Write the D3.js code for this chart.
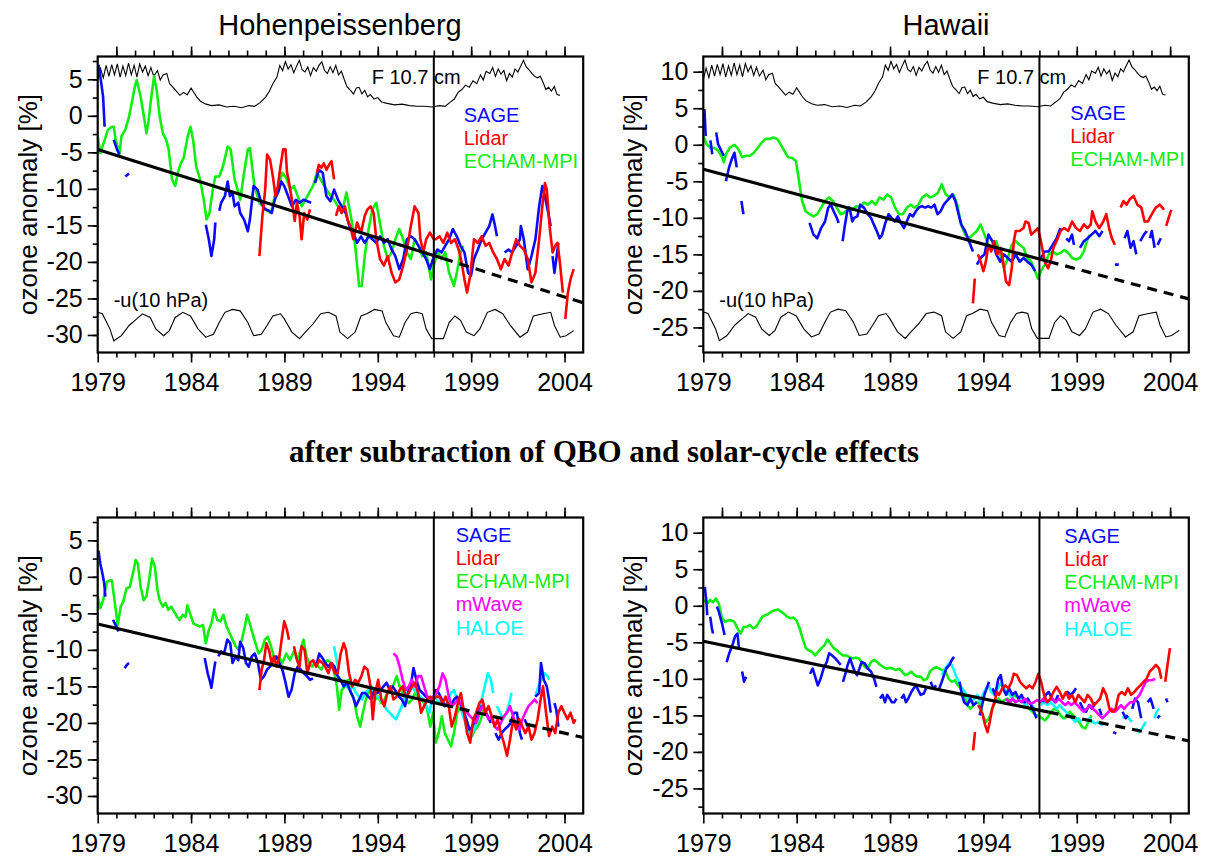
<!DOCTYPE html>
<html>
<head>
<meta charset="utf-8">
<script src="https://d3js.org/d3.v7.min.js"></script>
<style>
  body { margin: 0; background: #fff; }
  text { font-family: "Liberation Sans", Arial, Helvetica, sans-serif; }
  .axis path { display: none; }
  .axis line { stroke: #000; stroke-width: 1.6; }
  .axis text { font-size: 25px; fill: #000; }
</style>
</head>
<body>
<script>
// ---- tick labels ----
var yearTicks = [1979, 1984, 1989, 1994, 1999, 2004];
var leftTicks = [5, 0, -5, -10, -15, -20, -25, -30];
var rightTicks = [10, 5, 0, -5, -10, -15, -20, -25];

// ---- solar flux (F 10.7 cm) and -u(10 hPa), in Hohenpeissenberg units ----
var f107 = [[1979.0,4.9],[1979.15,6.5],[1979.3,5.2],[1979.45,6.9],[1979.6,5.4],[1979.75,7.0],[1979.9,5.6],[1980.05,7.1],[1980.2,5.3],[1980.35,6.8],[1980.5,5.5],[1980.65,7.2],[1980.8,5.6],[1980.95,6.9],[1981.1,5.3],[1981.25,7.1],[1981.4,6.0],[1981.55,6.8],[1981.7,5.5],[1981.85,6.6],[1982.0,5.4],[1982.2,6.2],[1982.35,4.9],[1982.5,5.6],[1982.7,5.8],[1982.85,4.4],[1983.0,4.0],[1983.2,3.4],[1983.4,2.8],[1983.6,3.2],[1983.8,2.9],[1984.0,3.8],[1984.15,3.2],[1984.3,2.6],[1984.5,2.0],[1984.8,1.6],[1985.1,1.4],[1985.5,1.5],[1985.9,1.2],[1986.3,1.3],[1986.7,1.1],[1987.1,1.4],[1987.4,1.3],[1987.7,1.8],[1988.0,2.6],[1988.2,3.4],[1988.4,4.5],[1988.6,5.3],[1988.75,6.9],[1988.9,6.2],[1989.05,7.4],[1989.2,6.4],[1989.35,7.0],[1989.5,5.9],[1989.65,6.8],[1989.8,7.6],[1989.95,6.3],[1990.1,6.0],[1990.25,6.7],[1990.4,5.5],[1990.55,6.6],[1990.7,6.1],[1990.85,6.9],[1991.0,7.4],[1991.15,6.2],[1991.3,5.8],[1991.45,6.7],[1991.6,5.9],[1991.75,6.9],[1991.9,5.6],[1992.05,6.1],[1992.2,5.0],[1992.35,4.0],[1992.5,3.6],[1992.7,3.0],[1992.85,3.8],[1993.0,3.9],[1993.15,3.0],[1993.3,3.5],[1993.45,2.6],[1993.6,2.9],[1993.8,2.3],[1994.0,2.5],[1994.2,1.9],[1994.5,1.7],[1994.9,1.5],[1995.3,1.6],[1995.7,1.4],[1996.1,1.3],[1996.5,1.3],[1996.9,1.2],[1997.3,1.4],[1997.6,1.3],[1997.9,1.9],[1998.1,2.3],[1998.3,3.2],[1998.5,3.6],[1998.7,4.2],[1998.9,3.9],[1999.1,4.8],[1999.3,4.4],[1999.5,5.6],[1999.65,4.9],[1999.8,6.1],[2000.0,5.8],[2000.15,6.6],[2000.3,5.4],[2000.45,6.4],[2000.6,5.7],[2000.75,6.2],[2000.9,4.8],[2001.05,5.8],[2001.2,5.3],[2001.35,6.4],[2001.5,6.0],[2001.65,6.8],[2001.8,7.6],[2001.95,6.7],[2002.1,6.3],[2002.25,5.8],[2002.4,5.4],[2002.55,5.2],[2002.7,5.4],[2002.85,4.6],[2003.0,3.6],[2003.15,3.9],[2003.3,3.4],[2003.45,4.0],[2003.6,2.9],[2003.75,2.8]];
var uWind = [[1979.0,-26.9],[1979.25,-27.1],[1979.66,-29.2],[1979.86,-30.8],[1980.27,-30.1],[1980.68,-28.7],[1981.09,-27.8],[1981.4,-27.1],[1981.81,-27.6],[1982.12,-29.2],[1982.53,-30.1],[1982.84,-29.4],[1983.15,-27.6],[1983.56,-26.9],[1983.97,-27.4],[1984.38,-29.2],[1984.79,-30.3],[1985.2,-29.9],[1985.51,-28.3],[1985.81,-26.9],[1986.22,-26.5],[1986.63,-26.7],[1987.04,-28.3],[1987.35,-30.1],[1987.76,-29.9],[1988.07,-28.7],[1988.38,-27.4],[1988.79,-27.1],[1988.99,-27.8],[1989.4,-29.6],[1989.81,-30.5],[1990.12,-29.6],[1990.53,-28.5],[1990.94,-27.1],[1991.35,-26.9],[1991.76,-27.4],[1991.97,-29.6],[1992.38,-30.5],[1992.79,-29.6],[1993.1,-27.4],[1993.41,-27.1],[1993.82,-26.5],[1994.23,-26.7],[1994.43,-28.3],[1994.84,-30.1],[1995.15,-30.3],[1995.46,-28.3],[1995.77,-27.1],[1996.07,-26.9],[1996.38,-27.1],[1996.59,-29.2],[1996.89,-30.5],[1997.51,-30.5],[1997.82,-28.3],[1998.13,-27.4],[1998.43,-28.0],[1998.74,-29.6],[1999.15,-30.1],[1999.46,-29.2],[1999.87,-26.9],[2000.28,-26.5],[2000.69,-27.1],[2001.1,-28.7],[2001.61,-30.3],[2002.02,-29.6],[2002.33,-27.4],[2002.85,-27.1],[2003.26,-26.9],[2003.46,-28.7],[2003.77,-30.3],[2004.08,-30.1],[2004.49,-29.4]];
// shift of both index curves in the Hawaii panel
var indexShiftHawaii = 4.0;

// ---- trend lines: value at 1979 and at 2005 ----
var trendP1 = [-4.6, -25.6];
var trendP2 = [-3.35, -21.1];
var trendP3 = [-6.45, -22.0];
var trendP4 = [-4.85, -18.5];
var trendBreak = 1997.5;

// ---- Hohenpeissenberg, raw ----
var p1Echam = [[1979.0,-2.8],[1979.14,-5.1],[1979.35,-3.5],[1979.55,-1.9],[1979.76,-1.5],[1979.86,-1.5],[1979.96,-3.3],[1980.17,-5.1],[1980.27,-2.8],[1980.48,-1.9],[1980.68,-0.1],[1980.79,1.3],[1980.99,4.0],[1981.09,4.9],[1981.3,2.6],[1981.5,-0.5],[1981.61,-2.4],[1981.71,-1.0],[1981.87,2.6],[1982.02,5.4],[1982.16,3.5],[1982.32,-0.1],[1982.49,-2.4],[1982.67,-3.3],[1982.8,-4.6],[1982.98,-8.7],[1983.15,-9.6],[1983.29,-7.8],[1983.45,-6.5],[1983.6,-5.8],[1983.82,-2.8],[1983.97,-1.5],[1984.11,-3.3],[1984.27,-6.9],[1984.48,-8.7],[1984.68,-11.5],[1984.83,-14.2],[1984.99,-13.3],[1985.14,-10.5],[1985.3,-8.3],[1985.51,-8.3],[1985.71,-6.9],[1985.96,-4.2],[1986.12,-4.6],[1986.33,-8.7],[1986.54,-10.5],[1986.63,-11.5],[1986.84,-7.8],[1987.04,-4.6],[1987.15,-4.4],[1987.25,-6.5],[1987.39,-9.6],[1987.66,-11.9],[1987.97,-12.8],[1988.28,-13.3],[1988.48,-11.0],[1988.69,-9.6],[1988.89,-7.8],[1989.1,-8.5],[1989.3,-10.1],[1989.51,-9.6],[1989.71,-11.0],[1989.92,-12.4],[1990.12,-11.5],[1990.33,-10.5],[1990.53,-9.6],[1990.74,-7.8],[1991.05,-9.2],[1991.35,-10.5],[1991.66,-11.5],[1991.87,-12.4],[1992.07,-13.3],[1992.32,-10.5],[1992.59,-14.2],[1992.79,-17.8],[1993.0,-23.3],[1993.14,-23.3],[1993.3,-19.2],[1993.51,-15.5],[1993.71,-12.8],[1993.92,-11.9],[1994.08,-14.2],[1994.33,-17.8],[1994.53,-19.6],[1994.74,-18.7],[1994.94,-16.9],[1995.15,-15.5],[1995.36,-16.9],[1995.56,-18.7],[1995.77,-19.6],[1995.97,-16.9],[1996.18,-17.8],[1996.38,-19.2],[1996.59,-18.7],[1996.85,-22.4],[1997.0,-20.5],[1997.2,-18.7],[1997.41,-19.6],[1997.61,-18.7],[1997.82,-21.5],[1998.08,-23.3],[1998.23,-21.5],[1998.43,-18.7],[1998.58,-17.8]];
var p1Sage = [[1979.04,7.0],[1979.14,5.4],[1979.29,2.6],[1979.37,-1.5],null,[1979.86,-3.3],[1980.03,-4.6],[1980.17,-5.3],null,[1980.48,-8.3],[1980.68,-7.9],null,[1984.79,-14.9],[1984.95,-16.9],[1985.09,-19.2],[1985.24,-16.9],[1985.3,-14.6],null,[1985.51,-13.0],[1985.61,-11.9],[1985.81,-11.0],[1985.96,-9.0],[1986.08,-11.0],[1986.22,-10.5],[1986.33,-12.4],[1986.53,-11.9],[1986.63,-13.3],[1986.84,-14.2],[1987.04,-15.8],[1987.15,-14.2],[1987.25,-11.9],[1987.35,-9.6],[1987.56,-10.1],[1987.76,-11.9],[1987.97,-12.8],[1988.17,-13.0],[1988.32,-13.3],[1988.48,-11.5],[1988.69,-10.3],[1988.83,-9.0],[1988.99,-9.6],[1989.2,-11.0],[1989.4,-12.4],[1989.61,-11.5],[1989.81,-11.9],[1990.02,-11.5],[1990.23,-11.7],[1990.43,-11.9],null,[1990.64,-9.2],[1990.84,-7.4],[1991.05,-7.8],[1991.25,-11.0],[1991.46,-11.7],[1991.66,-10.1],[1991.87,-11.5],[1992.07,-12.4],[1992.28,-13.3],[1992.48,-15.1],[1992.69,-16.0],[1992.89,-17.4],[1993.1,-16.5],[1993.3,-17.4],[1993.51,-16.5],[1993.71,-16.9],[1993.92,-17.4],[1994.12,-16.5],[1994.33,-17.4],[1994.53,-16.9],[1994.74,-18.3],[1994.94,-19.2],[1995.15,-21.0],[1995.36,-19.6],[1995.56,-16.9],[1995.77,-16.5],[1995.97,-16.9],[1996.18,-17.8],[1996.38,-18.7],[1996.59,-19.6],[1996.79,-21.0],[1997.0,-19.2],[1997.2,-18.3],[1997.41,-18.7],[1997.61,-17.8],[1997.82,-16.9],[1998.02,-15.5],[1998.23,-16.5],[1998.43,-17.8],[1998.64,-18.7],[1998.84,-21.5],[1998.99,-21.9],[1999.15,-19.6],[1999.36,-18.3],[1999.56,-16.9],[1999.77,-16.0],[1999.97,-15.1],[2000.14,-13.5],[2000.28,-15.1],[2000.38,-16.5],null,[2000.79,-18.7],[2001.0,-18.3],[2001.2,-18.7],[2001.41,-17.8],[2001.61,-16.9],[2001.66,-15.1],[2001.82,-16.9],[2002.03,-21.0],[2002.23,-19.2],[2002.44,-16.9],[2002.64,-12.4],[2002.81,-9.6],[2002.95,-11.0],[2003.16,-13.7],[2003.26,-15.1],null,[2003.36,-19.2],[2003.46,-21.5],[2003.56,-19.6],[2003.67,-17.4]];
var p1Lidar = [[1987.66,-19.2],[1987.82,-13.7],[1987.97,-10.1],[1988.07,-5.3],[1988.23,-6.0],[1988.38,-8.3],[1988.52,-11.0],[1988.65,-9.6],[1988.79,-6.9],[1988.93,-4.6],[1989.06,-4.6],[1989.14,-7.8],[1989.22,-8.7],[1989.4,-11.5],[1989.55,-14.4],[1989.67,-11.9],[1989.81,-13.7],[1989.92,-16.9],[1990.06,-13.3],[1990.23,-14.2],[1990.37,-12.8],null,[1990.74,-7.8],[1990.84,-6.7],[1990.98,-7.1],[1991.11,-6.5],[1991.25,-7.4],[1991.39,-6.7],[1991.52,-6.2],[1991.66,-8.7],null,[1991.76,-13.7],[1991.91,-12.4],[1992.07,-13.3],[1992.24,-12.4],[1992.38,-14.2],[1992.52,-15.1],[1992.69,-16.9],[1992.89,-14.6],[1993.1,-16.0],[1993.3,-13.7],[1993.45,-12.8],[1993.61,-12.4],[1993.78,-13.3],[1993.92,-16.9],[1994.12,-19.6],[1994.33,-20.5],[1994.53,-19.2],[1994.74,-21.5],[1994.94,-22.8],[1995.15,-22.4],[1995.36,-20.5],[1995.56,-18.3],[1995.77,-15.1],[1995.97,-12.4],[1996.18,-13.3],[1996.28,-16.9],[1996.44,-18.7],[1996.59,-16.9],[1996.79,-16.0],[1997.0,-16.9],[1997.1,-16.9],[1997.31,-16.5],[1997.51,-17.4],[1997.72,-16.0],[1997.92,-17.4],[1998.13,-16.9],[1998.33,-18.3],[1998.49,-20.1],[1998.64,-22.4],[1998.78,-24.2],[1998.95,-21.9],[1999.15,-16.9],[1999.36,-17.4],[1999.56,-16.5],[1999.77,-17.8],[1999.97,-17.4],[2000.18,-18.7],[2000.38,-19.6],[2000.59,-21.0],[2000.79,-19.6],[2001.0,-20.5],[2001.2,-18.7],[2001.41,-16.9],[2001.61,-17.8],[2001.82,-18.3],[2002.03,-19.6],[2002.23,-22.8],[2002.44,-21.5],[2002.64,-16.9],[2002.81,-12.4],[2002.95,-9.2],[2003.05,-10.1],[2003.2,-15.1],[2003.36,-18.7],[2003.5,-17.8],[2003.63,-17.4],[2003.77,-20.5],[2003.91,-24.2],null,[2004.04,-27.8],[2004.18,-24.2],[2004.32,-22.4],[2004.49,-21.0]];

// ---- Hawaii, raw ----
var p2Echam = [[1979.0,1.2],[1979.17,0.1],[1979.38,-0.4],[1979.58,-0.4],[1979.79,-0.8],[1980.0,-1.7],[1980.1,-2.4],[1980.21,-1.3],[1980.42,-0.4],[1980.67,0.0],[1980.88,-0.6],[1981.08,-1.7],[1981.29,-1.5],[1981.5,-1.5],[1981.71,-1.1],[1981.92,-0.4],[1982.13,0.3],[1982.33,0.8],[1982.54,0.8],[1982.75,1.0],[1982.96,0.8],[1983.13,0.1],[1983.33,-0.8],[1983.54,-1.7],[1983.75,-1.8],[1983.96,-2.2],[1984.13,-5.0],[1984.29,-7.7],[1984.48,-9.1],[1984.69,-9.5],[1984.9,-9.8],[1985.1,-9.5],[1985.31,-8.6],[1985.52,-7.7],[1985.73,-7.2],[1985.94,-7.7],[1986.15,-8.6],[1986.35,-9.5],[1986.56,-9.3],[1986.77,-8.6],[1986.98,-8.9],[1987.19,-8.4],[1987.4,-8.6],[1987.6,-7.9],[1987.81,-8.2],[1988.02,-7.7],[1988.23,-8.2],[1988.44,-7.2],[1988.65,-7.5],[1988.85,-6.8],[1989.06,-7.2],[1989.27,-8.6],[1989.48,-9.5],[1989.69,-9.5],[1989.9,-8.6],[1990.1,-8.2],[1990.31,-8.6],[1990.52,-8.2],[1990.73,-7.2],[1990.94,-6.8],[1991.15,-7.2],[1991.35,-7.0],[1991.56,-6.6],[1991.77,-5.4],[1991.98,-6.8],[1992.19,-7.2],[1992.4,-6.8],[1992.6,-8.2],[1992.81,-10.9],[1993.02,-12.3],[1993.23,-12.8],[1993.44,-12.3],[1993.65,-11.8],[1993.85,-10.9],[1994.06,-12.3],[1994.27,-13.7],[1994.48,-14.1],[1994.69,-13.2],[1994.9,-15.0],[1995.1,-16.9],[1995.31,-15.5],[1995.52,-13.7],[1995.73,-13.2],[1995.94,-13.7],[1996.15,-14.1],[1996.35,-15.5],[1996.56,-16.0],[1996.77,-17.3],[1996.92,-18.3],[1997.08,-17.3],[1997.29,-16.4],[1997.5,-15.0],[1997.71,-14.6],[1997.92,-15.0],[1998.13,-14.8],[1998.33,-14.4],[1998.54,-14.8],[1998.75,-15.5],[1998.96,-15.7],[1999.17,-15.5],[1999.38,-14.6],[1999.54,-13.2],[1999.69,-12.3]];
var p2Sage = [[1979.06,4.9],[1979.13,1.2],null,[1979.38,0.6],[1979.48,-1.3],null,[1979.69,1.7],[1979.79,0.1],[1979.96,-0.8],[1980.1,-1.5],null,[1980.21,-5.0],[1980.38,-3.1],[1980.52,-2.0],[1980.67,-1.1],[1980.79,-3.1],null,[1981.04,-7.7],[1981.15,-9.5],null,[1984.69,-10.7],[1984.9,-12.3],[1985.1,-12.8],[1985.31,-11.4],[1985.52,-10.5],[1985.69,-8.6],[1985.83,-8.2],[1985.98,-9.1],[1986.15,-10.0],[1986.25,-10.7],null,[1986.46,-13.2],[1986.56,-11.4],[1986.71,-9.1],[1986.83,-8.6],[1986.98,-10.5],[1987.08,-10.0],[1987.25,-9.8],[1987.4,-8.2],[1987.6,-8.6],[1987.81,-9.5],[1987.98,-10.0],[1988.13,-10.9],[1988.29,-11.8],[1988.44,-12.8],[1988.58,-12.3],[1988.75,-10.7],[1988.92,-9.5],[1989.08,-10.0],[1989.25,-10.5],[1989.42,-9.8],[1989.58,-10.7],[1989.75,-11.4],[1989.9,-10.5],[1990.06,-9.5],[1990.23,-9.8],[1990.38,-9.1],[1990.54,-8.6],[1990.71,-8.4],[1990.88,-8.6],[1991.04,-8.4],[1991.21,-8.6],[1991.38,-8.2],[1991.54,-9.5],[1991.71,-9.1],[1991.88,-8.2],[1992.04,-7.7],[1992.21,-7.2],[1992.33,-6.8],[1992.5,-7.7],[1992.67,-9.5],[1992.81,-10.9],[1993.02,-11.8],[1993.23,-13.2],[1993.44,-14.6],null,[1993.65,-16.4],[1993.85,-15.5],[1994.06,-15.0],[1994.27,-12.3],[1994.48,-13.2],[1994.69,-15.0],[1994.9,-16.0],[1995.1,-15.0],[1995.31,-15.5],[1995.52,-16.0],[1995.73,-15.0],[1995.94,-16.0],[1996.15,-15.5],[1996.35,-16.0],[1996.56,-16.4],[1996.77,-17.3],null,[1997.08,-15.5],[1997.29,-14.6],[1997.5,-14.6],[1997.71,-13.7],[1997.92,-12.8],[1998.13,-11.4],null,[1998.44,-12.8],[1998.58,-13.2],[1998.75,-12.3],[1998.85,-13.7],null,[1999.17,-14.1],[1999.38,-13.2],[1999.58,-12.8],[1999.79,-12.3],[2000.0,-11.8],[2000.21,-12.5],[2000.38,-11.8],null,[2001.04,-16.4],[2001.25,-16.4],null,[2001.56,-12.8],[2001.71,-11.8],[2001.88,-14.1],[2002.04,-13.2],[2002.19,-15.0],null,[2002.4,-13.2],[2002.6,-12.3],[2002.75,-11.8],null,[2002.92,-12.8],[2003.02,-11.8],[2003.17,-14.1],null,[2003.33,-13.7],[2003.5,-12.8]];
var p2Lidar = [[1993.44,-21.7],[1993.54,-18.3],null,[1993.71,-15.0],[1993.85,-16.0],[1994.0,-17.3],[1994.13,-16.0],[1994.27,-13.7],[1994.42,-14.6],[1994.58,-13.2],[1994.75,-15.0],[1994.92,-14.1],[1995.08,-16.4],[1995.21,-18.7],[1995.38,-19.2],[1995.52,-16.9],[1995.63,-13.2],[1995.73,-11.8],[1995.94,-11.8],[1996.15,-11.4],[1996.25,-10.5],[1996.42,-10.7],[1996.56,-12.3],[1996.77,-11.8],[1996.92,-11.4],[1997.08,-13.2],[1997.29,-16.0],[1997.46,-16.9],[1997.6,-16.0],[1997.75,-14.1],[1997.92,-13.2],[1998.13,-11.8],[1998.33,-11.4],[1998.54,-11.8],[1998.75,-10.5],[1998.96,-11.4],[1999.17,-11.8],[1999.38,-10.9],[1999.58,-11.4],[1999.75,-10.9],[1999.83,-9.1],[2000.0,-10.5],[2000.21,-11.4],[2000.42,-10.5],[2000.58,-9.5],[2000.73,-11.4],[2000.88,-12.8],[2001.04,-13.7],null,[2001.35,-8.6],[2001.5,-7.7],[2001.67,-8.2],[2001.83,-7.5],[2002.04,-7.0],[2002.25,-8.2],[2002.46,-8.6],[2002.63,-10.5],[2002.81,-10.5],[2003.02,-9.5],[2003.23,-8.6],[2003.44,-8.2],[2003.58,-8.6],[2003.67,-8.9],null,[2003.79,-11.1],[2003.92,-10.0],[2004.06,-8.9]];

// ---- Hohenpeissenberg, after subtraction ----
var p3Echam = [[1979.0,-2.7],[1979.14,-4.3],[1979.29,-3.2],[1979.49,-0.7],[1979.66,-0.5],[1979.76,-0.5],[1979.9,-3.2],[1980.07,-6.6],[1980.23,-4.1],[1980.37,-3.4],[1980.54,-1.6],[1980.72,-1.4],[1980.89,0.5],[1981.03,2.3],[1981.15,1.8],[1981.3,-1.4],[1981.46,-3.2],[1981.61,-2.7],[1981.75,-0.5],[1981.91,2.5],[1982.06,1.4],[1982.2,-1.8],[1982.32,-3.2],[1982.49,-4.1],[1982.63,-3.6],[1982.78,-4.5],[1982.94,-4.1],[1983.1,-4.8],[1983.25,-5.5],[1983.39,-5.9],[1983.56,-5.2],[1983.7,-5.5],[1983.8,-3.9],[1983.97,-5.2],[1984.13,-6.4],[1984.29,-6.6],[1984.48,-6.8],[1984.64,-6.6],[1984.79,-9.1],[1984.95,-7.3],[1985.09,-6.4],[1985.24,-4.5],[1985.4,-5.9],[1985.57,-6.1],[1985.73,-5.2],[1985.9,-6.8],[1986.06,-7.7],[1986.22,-8.6],[1986.39,-9.5],[1986.55,-10.0],[1986.72,-8.6],[1986.88,-6.8],[1987.0,-5.2],[1987.15,-6.4],[1987.29,-7.7],[1987.45,-9.1],[1987.62,-10.5],[1987.78,-10.0],[1987.95,-8.6],[1988.11,-8.2],[1988.28,-9.5],[1988.48,-11.4],[1988.69,-10.9],[1988.89,-11.8],[1989.1,-10.5],[1989.3,-11.4],[1989.51,-10.2],[1989.71,-11.4],[1989.92,-9.5],[1990.02,-8.6],[1990.18,-10.9],[1990.33,-11.8],[1990.49,-12.3],[1990.66,-11.6],[1990.82,-12.3],[1990.98,-12.7],[1991.15,-11.8],[1991.31,-11.4],[1991.48,-11.8],[1991.64,-12.7],[1991.81,-15.0],[1991.93,-18.2],[1992.07,-15.5],[1992.24,-15.0],[1992.4,-14.1],[1992.56,-15.9],[1992.73,-16.8],[1992.89,-19.1],[1993.06,-20.5],[1993.2,-18.6],[1993.36,-16.8],[1993.53,-15.5],[1993.69,-15.9],[1993.86,-16.8],[1994.02,-16.4],[1994.19,-17.3],[1994.35,-16.8],[1994.51,-15.9],[1994.68,-15.5],[1994.84,-14.8],[1995.01,-13.6],[1995.17,-15.0],[1995.33,-15.9],[1995.5,-16.8],[1995.66,-17.3],[1995.83,-16.8],[1995.99,-15.9],[1996.16,-16.4],[1996.32,-16.8],[1996.48,-17.3],[1996.65,-18.2],[1996.81,-20.5],[1996.96,-18.6],[1997.1,-22.7],[1997.26,-21.4],[1997.43,-19.1],[1997.59,-21.4],[1997.76,-22.3],[1997.92,-23.2],[1998.08,-21.4],[1998.25,-18.6],[1998.41,-17.7],[1998.58,-19.1],[1998.74,-19.5],[1998.91,-21.4],[1999.05,-21.8],[1999.21,-20.9],[1999.36,-20.5],[1999.52,-19.5],[1999.66,-18.2]];
var p3Sage = [[1979.04,3.6],[1979.14,1.8],[1979.25,0.5],[1979.35,-0.9],[1979.41,-2.7],null,[1979.82,-5.9],[1979.96,-6.6],[1980.11,-7.5],null,[1980.44,-12.5],[1980.58,-12.0],[1980.68,-11.8],null,[1984.73,-11.1],[1984.89,-13.2],[1984.99,-14.1],[1985.09,-15.2],[1985.2,-13.2],[1985.3,-11.6],null,[1985.46,-10.9],[1985.61,-10.2],[1985.77,-10.5],[1985.94,-8.6],[1986.1,-9.1],[1986.22,-11.8],[1986.39,-10.9],[1986.53,-11.4],[1986.63,-8.9],[1986.8,-9.8],[1986.94,-11.8],[1987.09,-12.3],[1987.25,-10.9],[1987.41,-10.5],[1987.58,-11.8],[1987.74,-14.1],[1987.91,-13.6],[1988.07,-12.7],[1988.23,-12.3],[1988.4,-11.4],[1988.56,-10.9],[1988.73,-11.8],[1988.89,-12.7],[1989.06,-14.5],[1989.22,-16.4],[1989.38,-15.5],[1989.55,-13.2],[1989.71,-12.3],[1989.88,-12.7],[1990.04,-13.2],[1990.2,-13.6],[1990.37,-14.1],[1990.53,-13.9],null,[1990.7,-12.3],[1990.86,-10.5],[1991.03,-11.1],[1991.19,-11.8],[1991.35,-12.3],[1991.52,-11.8],[1991.68,-12.3],[1991.85,-13.6],[1992.01,-14.1],[1992.17,-15.0],[1992.34,-14.5],[1992.5,-15.5],[1992.67,-16.4],[1992.83,-17.7],[1993.0,-16.8],[1993.16,-15.9],[1993.32,-15.9],[1993.49,-16.4],[1993.65,-16.8],[1993.82,-15.5],[1993.98,-15.9],[1994.14,-15.5],[1994.31,-15.0],[1994.47,-14.5],[1994.64,-15.5],[1994.8,-15.0],[1994.97,-15.7],[1995.13,-16.4],[1995.29,-16.8],[1995.46,-17.7],[1995.62,-15.9],[1995.79,-14.5],[1995.91,-12.5],[1996.07,-14.1],[1996.24,-15.5],[1996.4,-15.9],[1996.57,-16.4],[1996.73,-16.8],[1996.89,-17.3],[1997.1,-15.5],[1997.26,-15.9],[1997.43,-16.8],[1997.59,-17.7],[1997.76,-17.3],[1997.92,-17.7],[1998.08,-16.8],[1998.25,-16.4],[1998.41,-17.3],[1998.58,-18.2],[1998.74,-19.5],[1998.91,-20.9],[1999.07,-20.5],[1999.23,-19.5],[1999.4,-18.6],[1999.56,-17.7],[1999.73,-18.2],[1999.89,-19.1],[2000.05,-20.0],null,[2000.3,-21.4],[2000.47,-22.3],[2000.63,-21.4],[2000.79,-20.9],[2000.96,-20.5],[2001.12,-20.0],[2001.29,-18.6],[2001.45,-18.6],[2001.61,-21.4],[2001.72,-22.3],null,[2001.86,-19.5],[2002.03,-20.5],null,[2002.44,-16.4],[2002.64,-15.9],[2002.74,-11.8],[2002.89,-14.1],[2003.05,-15.0],[2003.17,-16.8],[2003.26,-18.6],null,[2003.46,-17.3],[2003.56,-18.2],[2003.67,-20.5]];
var p3Lidar = [[1987.66,-15.5],[1987.78,-12.7],[1987.91,-11.4],[1988.03,-9.1],[1988.17,-10.0],[1988.32,-11.8],[1988.44,-10.9],[1988.58,-12.3],[1988.73,-10.9],[1988.85,-8.6],[1988.99,-6.1],[1989.14,-7.3],[1989.24,-8.6],null,[1989.51,-9.5],[1989.67,-11.4],[1989.81,-12.3],[1989.92,-9.5],[1990.08,-10.0],[1990.23,-13.2],[1990.37,-11.8],[1990.53,-11.4],[1990.7,-12.3],[1990.86,-11.4],[1991.03,-11.8],[1991.19,-12.3],[1991.35,-13.2],[1991.52,-11.8],[1991.68,-13.2],[1991.85,-13.2],[1992.01,-10.5],[1992.17,-9.1],[1992.3,-10.0],[1992.46,-13.2],[1992.63,-15.0],[1992.79,-14.1],[1992.95,-14.5],[1993.12,-13.6],[1993.28,-12.3],[1993.45,-12.7],[1993.61,-15.0],[1993.73,-19.5],[1993.86,-15.9],[1994.02,-14.1],[1994.19,-16.8],[1994.35,-17.7],[1994.51,-15.9],[1994.68,-15.0],[1994.84,-16.8],[1995.01,-16.4],[1995.17,-15.5],[1995.33,-15.0],[1995.5,-16.4],[1995.66,-15.9],[1995.83,-15.0],[1995.99,-14.5],[1996.16,-15.9],[1996.32,-18.6],[1996.48,-17.7],[1996.65,-16.8],[1996.81,-16.4],[1996.98,-16.8],[1997.14,-16.4],[1997.3,-16.4],[1997.47,-17.3],[1997.63,-16.4],[1997.8,-17.7],[1997.96,-20.5],[1998.13,-19.1],[1998.29,-17.3],[1998.45,-15.9],[1998.62,-18.6],[1998.78,-21.4],[1998.95,-22.7],[1999.11,-19.5],[1999.27,-18.6],[1999.44,-17.3],[1999.6,-16.8],[1999.77,-18.6],[1999.93,-17.7],[2000.1,-19.1],[2000.26,-20.5],[2000.42,-19.5],[2000.59,-21.4],[2000.75,-22.7],[2000.92,-24.5],[2001.08,-22.3],[2001.25,-19.5],[2001.41,-20.9],[2001.57,-19.5],[2001.74,-20.5],[2001.9,-21.4],[2002.07,-20.5],[2002.23,-22.3],[2002.39,-21.4],[2002.56,-19.5],[2002.72,-16.8],[2002.85,-15.0],[2003.01,-18.6],[2003.17,-21.8],[2003.34,-20.5],[2003.5,-21.4],[2003.67,-18.6],[2003.83,-17.7],[2003.99,-18.6],[2004.16,-19.5],[2004.32,-18.6],[2004.49,-20.0],[2004.59,-19.5]];
var p3Mwave = [[1994.84,-10.5],[1995.01,-10.9],[1995.17,-12.3],[1995.33,-14.1],[1995.5,-15.5],[1995.66,-15.0],[1995.83,-14.1],[1995.99,-15.0],[1996.16,-13.6],[1996.32,-13.6],[1996.48,-15.0],[1996.65,-16.4],[1996.81,-16.8],[1996.98,-16.4],[1997.14,-15.9],[1997.3,-15.0],[1997.47,-13.2],[1997.63,-14.1],[1997.8,-16.4],[1997.96,-17.7],[1998.13,-17.3],[1998.29,-16.8],[1998.45,-17.3],[1998.62,-18.2],[1998.78,-18.6],[1998.95,-19.1],[1999.11,-19.5],[1999.27,-20.0],[1999.44,-18.6],[1999.6,-17.7],[1999.77,-18.6],[1999.93,-19.5],[2000.1,-19.1],[2000.26,-20.5],[2000.42,-20.9],[2000.59,-20.0],[2000.75,-19.1],[2000.92,-18.6],[2001.08,-17.7],[2001.25,-19.1],[2001.41,-20.5],[2001.57,-20.9],[2001.74,-19.5],[2001.9,-18.6],[2002.07,-17.7],[2002.23,-17.3],[2002.39,-16.8],[2002.56,-17.3]];
var p3Haloe = [[1991.66,-9.5],[1991.76,-10.9],[1991.87,-12.3],null,[1992.17,-14.1],[1992.34,-15.0],[1992.5,-15.5],[1992.67,-15.0],[1992.83,-15.9],[1993.0,-16.4],[1993.16,-16.8],[1993.32,-15.9],[1993.49,-15.5],[1993.65,-15.0],[1993.82,-15.9],[1993.98,-16.4],[1994.14,-16.8],[1994.31,-17.3],[1994.47,-18.2],[1994.64,-18.6],[1994.8,-19.1],[1994.97,-19.5],[1995.13,-18.6],[1995.29,-17.7],[1995.46,-16.4],[1995.62,-15.5],[1995.79,-15.0],[1995.95,-15.5],[1996.11,-15.9],[1996.28,-16.4],[1996.44,-16.8],[1996.61,-17.7],[1996.77,-18.6],[1996.89,-16.8],null,[1997.1,-16.4],[1997.26,-17.3],[1997.43,-16.8],[1997.59,-17.7],[1997.76,-16.8],[1997.92,-15.9],[1998.08,-15.5],[1998.25,-16.8],[1998.41,-17.7],[1998.58,-19.1],[1998.74,-20.5],[1998.91,-22.3],[1999.07,-21.4],[1999.23,-20.5],[1999.4,-19.1],[1999.56,-16.8],[1999.73,-15.0],[1999.89,-13.2],[2000.05,-14.1],[2000.18,-15.9],null,[2000.38,-17.7],[2000.55,-18.6],[2000.71,-19.5],[2000.88,-18.6],[2001.04,-17.3],[2001.16,-15.9],null,[2002.44,-16.4],[2002.6,-15.0],[2002.76,-14.1],[2002.93,-13.2],[2003.09,-13.6],[2003.17,-14.1]];

// ---- Hawaii, after subtraction ----
var p4Echam = [[1979.04,0.8],[1979.21,0.3],[1979.37,0.8],[1979.52,0.5],[1979.67,1.0],[1979.83,0.3],[1980.0,-1.7],[1980.16,-2.2],[1980.33,-2.0],[1980.5,-2.0],[1980.66,-2.2],[1980.83,-3.1],[1981.0,-3.8],[1981.16,-2.9],[1981.33,-2.9],[1981.49,-2.6],[1981.66,-3.1],[1981.83,-2.9],[1981.99,-2.2],[1982.16,-1.5],[1982.33,-1.3],[1982.49,-1.1],[1982.66,-0.8],[1982.83,-0.6],[1982.99,-0.5],[1983.16,-0.8],[1983.32,-1.1],[1983.49,-1.5],[1983.66,-1.7],[1983.82,-1.6],[1983.99,-2.0],[1984.16,-3.1],[1984.32,-4.5],[1984.49,-5.8],[1984.65,-6.1],[1984.82,-6.3],[1984.99,-6.8],[1985.15,-6.3],[1985.32,-5.8],[1985.49,-5.4],[1985.65,-4.6],[1985.82,-5.2],[1985.99,-5.8],[1986.15,-6.1],[1986.32,-6.5],[1986.48,-6.8],[1986.65,-6.8],[1986.82,-7.0],[1986.98,-7.2],[1987.15,-7.1],[1987.32,-7.2],[1987.48,-7.7],[1987.65,-8.4],[1987.81,-8.6],[1987.98,-7.7],[1988.15,-7.4],[1988.31,-7.7],[1988.48,-8.1],[1988.65,-8.4],[1988.81,-8.6],[1988.98,-8.5],[1989.15,-8.6],[1989.31,-8.8],[1989.48,-8.6],[1989.64,-9.0],[1989.81,-9.5],[1989.98,-9.3],[1990.14,-9.0],[1990.31,-9.5],[1990.48,-9.7],[1990.64,-9.7],[1990.81,-10.2],[1990.98,-10.0],[1991.14,-9.0],[1991.31,-8.6],[1991.47,-8.4],[1991.64,-8.6],[1991.81,-8.8],[1991.97,-9.0],[1992.14,-10.0],[1992.31,-10.4],[1992.47,-10.2],[1992.64,-10.9],[1992.8,-11.3],[1992.97,-12.2],[1993.14,-13.6],[1993.3,-14.1],[1993.47,-13.6],[1993.64,-13.2],[1993.8,-13.4],[1993.97,-15.0],[1994.14,-15.9],[1994.3,-15.4],[1994.47,-14.1],[1994.63,-13.2],[1994.8,-12.7],[1994.97,-13.2],[1995.13,-12.9],[1995.3,-12.7],[1995.47,-13.2],[1995.63,-12.2],[1995.8,-12.5],[1995.96,-12.7],[1996.13,-12.9],[1996.3,-13.6],[1996.46,-14.1],[1996.63,-14.5],[1996.8,-15.0],[1996.96,-15.0],[1997.13,-15.4],[1997.3,-15.7],[1997.46,-15.2],[1997.63,-14.5],[1997.79,-14.1],[1997.96,-14.3],[1998.13,-15.0],[1998.29,-15.4],[1998.46,-15.2],[1998.63,-14.5],[1998.79,-15.0],[1998.96,-15.4],[1999.12,-15.9],[1999.29,-16.6],[1999.46,-16.8],[1999.62,-15.9],[1999.79,-15.0]];
var p4Sage = [[1979.08,2.6],[1979.17,0.5],[1979.21,-1.3],null,[1979.37,-1.5],[1979.46,-3.1],[1979.52,-3.8],null,[1979.73,-0.1],[1979.83,-0.8],[1980.0,-2.4],[1980.14,-4.0],null,[1980.25,-7.7],[1980.39,-6.5],[1980.56,-5.4],[1980.7,-4.2],[1980.83,-3.8],[1980.91,-5.8],null,[1981.08,-9.0],[1981.18,-10.4],[1981.29,-9.7],null,[1984.72,-9.3],[1984.86,-8.6],[1984.99,-9.7],[1985.13,-10.9],[1985.28,-10.0],[1985.44,-8.6],[1985.61,-7.7],[1985.74,-6.5],[1985.9,-6.8],[1986.07,-7.2],[1986.23,-7.7],[1986.36,-8.1],null,[1986.48,-10.4],[1986.61,-9.3],[1986.73,-8.1],[1986.86,-7.2],[1986.98,-8.1],[1987.11,-9.0],[1987.23,-9.5],[1987.36,-8.6],[1987.48,-7.7],[1987.65,-7.9],[1987.81,-8.6],[1987.98,-9.0],[1988.15,-10.0],[1988.27,-11.1],null,[1988.46,-12.7],[1988.6,-12.2],[1988.73,-13.2],[1988.85,-12.2],[1988.98,-12.7],[1989.1,-13.2],[1989.23,-13.2],[1989.35,-12.7],null,[1989.6,-12.7],[1989.73,-12.2],[1989.85,-13.2],[1989.98,-12.7],[1990.14,-11.8],[1990.27,-11.3],[1990.39,-10.9],[1990.52,-11.6],[1990.64,-12.2],[1990.81,-12.0],[1990.93,-11.3],null,[1991.18,-10.4],[1991.31,-11.3],[1991.47,-10.9],null,[1991.64,-11.3],[1991.77,-10.4],[1991.89,-9.5],[1992.01,-8.6],[1992.18,-8.1],[1992.31,-7.4],[1992.43,-7.0],null,[1992.72,-10.4],[1992.85,-12.2],[1992.97,-13.2],[1993.14,-13.6],[1993.3,-12.7],[1993.47,-13.6],[1993.64,-13.2],null,[1993.8,-15.0],[1993.93,-13.6],[1994.05,-12.2],[1994.18,-11.3],[1994.3,-10.4],null,[1994.49,-11.3],[1994.63,-12.2],[1994.8,-10.0],[1994.93,-9.5],[1995.05,-11.3],[1995.22,-12.2],[1995.38,-11.3],[1995.55,-12.2],[1995.72,-11.8],[1995.88,-12.7],[1996.05,-12.2],[1996.21,-13.2],[1996.38,-12.7],[1996.55,-13.6],[1996.71,-14.5],[1996.84,-15.4],null,[1997.19,-13.2],[1997.34,-12.2],[1997.5,-11.8],[1997.67,-12.7],[1997.84,-13.2],[1998.0,-12.2],null,[1998.33,-12.2],[1998.5,-11.8],[1998.67,-12.2],[1998.83,-11.8],[1998.96,-11.3],null,[1999.17,-13.2],[1999.33,-14.1],[1999.5,-14.5],[1999.66,-13.6],[1999.83,-14.1],[2000.0,-13.2],null,[2000.21,-14.1],[2000.33,-15.0],null,[2000.95,-17.3],[2001.12,-17.5],null,[2001.45,-14.5],[2001.62,-15.4],[2001.74,-15.0],null,[2001.97,-14.1],[2002.12,-12.7],[2002.28,-13.2],[2002.45,-15.4],null,[2002.8,-13.2],[2002.95,-12.7],[2003.12,-14.1],null,[2003.32,-15.4],[2003.45,-15.0],null,[2003.78,-12.7],[2003.86,-13.2]];
var p4Lidar = [[1993.45,-19.8],[1993.55,-17.3],null,[1993.72,-13.6],[1993.84,-14.1],[1993.97,-15.0],[1994.09,-16.3],[1994.22,-17.3],[1994.34,-15.9],[1994.47,-14.1],[1994.59,-13.2],[1994.72,-11.8],[1994.84,-12.2],[1995.01,-11.3],[1995.17,-10.9],[1995.34,-11.3],[1995.51,-10.4],[1995.63,-9.3],[1995.8,-9.5],[1995.96,-10.4],[1996.13,-10.9],[1996.3,-11.3],[1996.46,-10.9],[1996.63,-11.3],[1996.8,-10.4],[1996.94,-9.3],[1997.09,-10.4],[1997.25,-12.2],[1997.42,-13.2],[1997.59,-12.7],[1997.75,-11.8],[1997.92,-11.1],[1998.09,-11.8],[1998.25,-12.7],[1998.42,-11.8],[1998.58,-12.7],[1998.75,-12.2],[1998.92,-13.2],[1999.08,-12.2],[1999.25,-12.7],[1999.42,-13.2],[1999.58,-12.2],[1999.75,-12.7],[1999.92,-13.6],[2000.08,-13.2],[2000.25,-12.7],[2000.41,-11.3],[2000.58,-12.2],[2000.75,-14.1],[2000.91,-14.5],[2001.08,-14.1],[2001.24,-12.2],[2001.41,-11.8],[2001.58,-12.2],[2001.74,-11.3],[2001.91,-12.2],[2002.08,-11.8],[2002.24,-11.3],[2002.41,-10.9],[2002.58,-10.4],[2002.74,-10.0],[2002.91,-9.0],[2003.07,-8.6],[2003.24,-8.1],[2003.41,-8.6],[2003.53,-10.0],null,[2003.74,-10.4],[2003.86,-8.1],[2003.99,-5.8]];
var p4Mwave = [[1995.22,-12.7],[1995.38,-13.2],[1995.55,-12.7],[1995.72,-13.2],[1995.88,-12.9],[1996.05,-13.2],[1996.21,-12.7],[1996.38,-13.2],[1996.55,-13.4],[1996.71,-13.2],[1996.88,-12.9],[1997.05,-13.2],[1997.21,-12.7],[1997.38,-13.2],[1997.55,-12.9],[1997.71,-12.7],[1997.88,-13.2],[1998.04,-12.7],[1998.21,-13.2],[1998.38,-13.6],[1998.54,-13.2],[1998.71,-13.6],[1998.88,-13.2],[1999.04,-13.6],[1999.21,-14.1],[1999.37,-14.5],[1999.54,-14.1],[1999.71,-13.6],[1999.87,-14.1],[2000.04,-14.5],[2000.21,-15.0],[2000.37,-15.4],[2000.54,-15.0],[2000.71,-14.5],[2000.87,-14.1],[2001.04,-14.5],[2001.2,-14.1],[2001.37,-13.6],[2001.54,-14.1],[2001.7,-13.6],[2001.87,-13.2],[2002.04,-13.2],[2002.2,-12.7],[2002.37,-12.2],[2002.53,-11.3],[2002.7,-10.4],[2002.87,-10.2],[2003.03,-10.2],[2003.2,-10.0]];
var p4Haloe = [[1991.79,-9.5],[1991.93,-8.6],[1992.1,-8.1],[1992.22,-7.7],[1992.39,-8.6],[1992.51,-9.5],[1992.68,-10.4],[1992.85,-11.3],[1993.01,-11.8],[1993.18,-12.7],[1993.35,-13.2],[1993.51,-12.7],[1993.68,-12.2],[1993.84,-13.2],[1993.97,-12.2],[1994.14,-11.3],[1994.26,-10.9],[1994.43,-11.8],[1994.59,-12.2],[1994.76,-11.3],[1994.93,-10.6],[1995.09,-11.3],[1995.26,-11.8],[1995.42,-12.2],[1995.59,-12.7],[1995.76,-13.2],[1995.92,-12.7],[1996.09,-13.2],[1996.26,-13.6],[1996.42,-13.2],[1996.59,-13.6],[1996.75,-14.1],null,[1997.09,-13.6],[1997.25,-13.2],[1997.42,-13.6],[1997.59,-13.2],[1997.75,-13.6],[1997.92,-14.1],[1998.09,-13.6],[1998.25,-14.1],[1998.42,-14.5],[1998.58,-15.0],[1998.75,-15.4],[1998.92,-15.9],[1999.08,-15.4],[1999.25,-15.9],null,[1999.5,-15.9],[1999.67,-15.4],[1999.83,-15.9],[2000.0,-16.1],[2000.17,-15.9],[2000.33,-16.3],[2000.5,-16.1],null,[2001.45,-15.4],[2001.62,-15.0],[2001.79,-15.4],[2001.95,-15.9],null,[2002.18,-16.8],[2002.33,-17.3],[2002.49,-16.8],[2002.7,-15.9],null,[2003.16,-15.4],[2003.28,-14.5],[2003.41,-14.1]];

// ---- layout ----
var W = 1208, H = 857;
var plotW = 485.5, plotH = 296;
var colors = { SAGE: "#0a0aff", Lidar: "#ff0000", "ECHAM-MPI": "#11ee11", mWave: "#ff00ff", HALOE: "#00ffff" };

var panels = [
  { x0: 97.7, y0: 56.5, ydom: [-32.4, 8.12], ticks: leftTicks, trend: trendP1, indices: true, shift: 0,
    legend: ["SAGE", "Lidar", "ECHAM-MPI"], legDx: 366, legDy: 60,
    series: [["ECHAM-MPI", p1Echam], ["SAGE", p1Sage], ["Lidar", p1Lidar]] },
  { x0: 703.3, y0: 56.5, ydom: [-28.43, 12.08], ticks: rightTicks, trend: trendP2, indices: true, shift: indexShiftHawaii,
    legend: ["SAGE", "Lidar", "ECHAM-MPI"], legDx: 367, legDy: 58,
    series: [["ECHAM-MPI", p2Echam], ["SAGE", p2Sage], ["Lidar", p2Lidar]] },
  { x0: 97.7, y0: 517.5, ydom: [-32.4, 8.12], ticks: leftTicks, trend: trendP3, indices: false,
    legend: ["SAGE", "Lidar", "ECHAM-MPI", "mWave", "HALOE"], legDx: 358, legDy: 19,
    series: [["ECHAM-MPI", p3Echam], ["HALOE", p3Haloe], ["SAGE", p3Sage], ["mWave", p3Mwave], ["Lidar", p3Lidar]] },
  { x0: 703.3, y0: 517.5, ydom: [-28.43, 12.08], ticks: rightTicks, trend: trendP4, indices: false,
    legend: ["SAGE", "Lidar", "ECHAM-MPI", "mWave", "HALOE"], legDx: 361, legDy: 20,
    series: [["ECHAM-MPI", p4Echam], ["HALOE", p4Haloe], ["SAGE", p4Sage], ["mWave", p4Mwave], ["Lidar", p4Lidar]] }
];

var svg = d3.select("body").append("svg").attr("width", W).attr("height", H);

// titles
svg.append("text").attr("x", 340).attr("y", 35).attr("text-anchor", "middle")
  .style("font-size", "29px").text("Hohenpeissenberg");
svg.append("text").attr("x", 946).attr("y", 35).attr("text-anchor", "middle")
  .style("font-size", "29px").text("Hawaii");
svg.append("text").attr("x", 604).attr("y", 462).attr("text-anchor", "middle")
  .style("font-family", "'Liberation Serif', 'Times New Roman', serif")
  .style("font-weight", "bold").style("font-size", "31px")
  .text("after subtraction of QBO and solar-cycle effects");

panels.forEach(function (p, i) {
  var x = d3.scaleLinear().domain([1979, 2005]).range([0, plotW]);
  var y = d3.scaleLinear().domain(p.ydom).range([plotH, 0]);
  var g = svg.append("g").attr("transform", "translate(" + p.x0 + "," + p.y0 + ")");

  g.append("clipPath").attr("id", "clip" + i)
    .append("rect").attr("width", plotW).attr("height", plotH);

  // axes
  var minorY = d3.range(p.ticks[p.ticks.length - 1] - 2.5, p.ticks[0] + 5, 2.5)
    .filter(function (v) { return v > p.ydom[0] && v < p.ydom[1]; });
  g.append("g").attr("class", "axis")
    .call(d3.axisLeft(y).tickValues(minorY).tickSize(5).tickFormat(""));
  g.append("g").attr("class", "axis")
    .call(d3.axisLeft(y).tickValues(p.ticks).tickSize(10).tickPadding(5).tickFormat(function (d) { return String(d); }));

  var years = d3.range(1980, 2005);
  g.append("g").attr("class", "axis").attr("transform", "translate(0," + plotH + ")")
    .call(d3.axisBottom(x).tickValues(years).tickSize(5).tickFormat(""));
  g.append("g").attr("class", "axis").attr("transform", "translate(0," + plotH + ")")
    .call(d3.axisBottom(x).tickValues(yearTicks).tickSize(10).tickPadding(11).tickFormat(d3.format("d")));
  g.append("g").attr("class", "axis")
    .call(d3.axisTop(x).tickValues(years).tickSize(6).tickFormat(""));
  g.append("g").attr("class", "axis")
    .call(d3.axisTop(x).tickValues([1980].concat(yearTicks.slice(1))).tickSize(10).tickFormat(""));

  g.append("text").attr("transform", "translate(" + (-68) + "," + (plotH / 2) + ") rotate(-90)")
    .attr("text-anchor", "middle").attr("dominant-baseline", "middle")
    .style("font-size", "26px").text("ozone anomaly [%]");

  var plot = g.append("g").attr("clip-path", "url(#clip" + i + ")");
  var line = d3.line().defined(function (d) { return d !== null; })
    .x(function (d) { return x(d[0]); }).y(function (d) { return y(d[1]); });

  // solar flux and QBO wind
  if (p.indices) {
    var shifted = function (arr) { return arr.map(function (d) { return [d[0], d[1] + p.shift]; }); };
    plot.append("path").attr("d", line(shifted(f107)))
      .attr("fill", "none").attr("stroke", "#000").attr("stroke-width", 1.1);
    plot.append("path").attr("d", line(shifted(uWind)))
      .attr("fill", "none").attr("stroke", "#000").attr("stroke-width", 1.1);
    g.append("text").attr("x", 274).attr("y", 22).attr("dominant-baseline", "middle")
      .style("font-size", "20px").text("F 10.7 cm");
    g.append("text").attr("x", 16).attr("y", 245).attr("dominant-baseline", "middle")
      .style("font-size", "20px").text("-u(10 hPa)");
  }

  // ozone series
  p.series.forEach(function (s) {
    plot.append("path").attr("d", line(s[1]))
      .attr("fill", "none").attr("stroke", colors[s[0]])
      .attr("stroke-width", 2.6).attr("stroke-linejoin", "round");
  });

  // trend line: solid to the break, dashed beyond
  var tr = d3.scaleLinear().domain([1979, 2005]).range(p.trend);
  plot.append("path").attr("d", line([[1979, tr(1979)], [trendBreak, tr(trendBreak)]]))
    .attr("fill", "none").attr("stroke", "#000").attr("stroke-width", 3.2);
  plot.append("path").attr("d", line([[trendBreak, tr(trendBreak)], [2005, tr(2005)]]))
    .attr("fill", "none").attr("stroke", "#000").attr("stroke-width", 3.2)
    .attr("stroke-dasharray", "10,7");

  // 1997 marker
  g.append("line").attr("x1", x(1997)).attr("x2", x(1997)).attr("y1", 0).attr("y2", plotH)
    .attr("stroke", "#000").attr("stroke-width", 2);

  // frame
  g.append("rect").attr("width", plotW).attr("height", plotH)
    .attr("fill", "none").attr("stroke", "#000").attr("stroke-width", 2.2);

  // legend
  p.legend.forEach(function (name, k) {
    g.append("text").attr("x", p.legDx).attr("y", p.legDy + k * 23.2)
      .attr("dominant-baseline", "middle").style("font-size", "20px")
      .attr("fill", colors[name]).text(name);
  });
});
</script>
</body>
</html>
